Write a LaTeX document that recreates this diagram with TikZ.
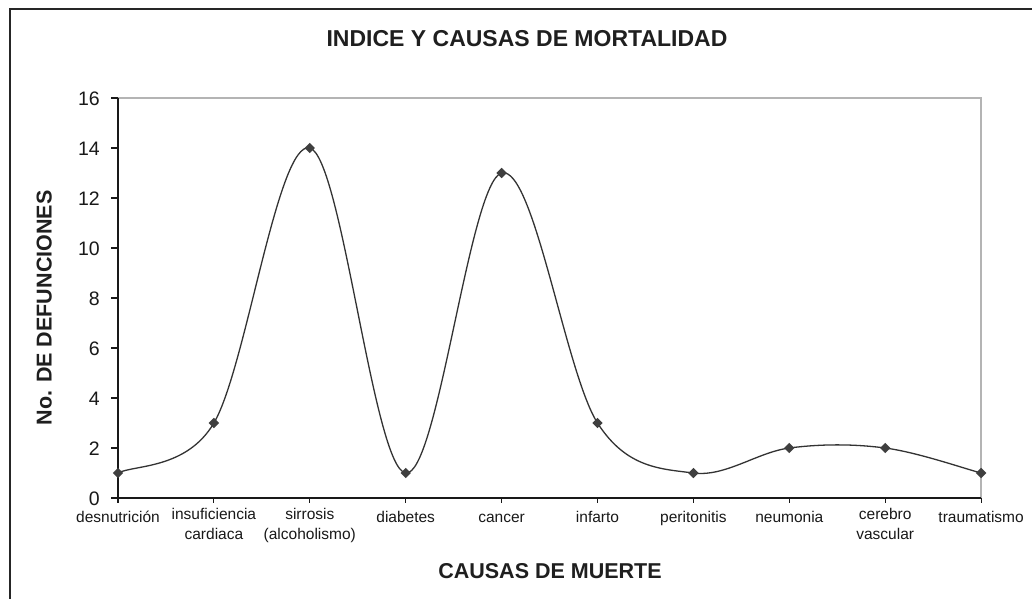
\documentclass[tikz,border=0pt]{standalone}
\usepackage{fontspec}
\setmainfont{Liberation Sans}
\usetikzlibrary{shapes.geometric}
\definecolor{curvecol}{HTML}{333333}
\definecolor{markcol}{HTML}{3F3F3F}
\definecolor{framegray}{HTML}{B4B4B4}
\tikzset{
  mk/.style={diamond,fill=markcol,draw=none,minimum width=10.5pt,minimum height=10.5pt,inner sep=0pt},
  ticklab/.style={anchor=base east,inner sep=0pt,font=\fontsize{19.5}{22}\selectfont,text=black!90},
  catlab/.style={anchor=north,inner sep=0pt,align=center,font=\fontsize{15.5}{20}\selectfont,text=black!90,execute at begin node=\strut},
  axtitle/.style={inner sep=0pt,font=\bfseries\fontsize{21.5}{24}\selectfont,text=black!88},
  axisline/.style={draw=black!90,line width=1.3pt},
  tickline/.style={draw=black!90,line width=1.1pt}
}
\begin{document}
\begin{tikzpicture}[x=1pt,y=-1pt]
\useasboundingbox (0,0) rectangle (1032,598);
\fill[white] (0,0) rectangle (1032,598);
% outer frame (only top and left visible)
\draw[line width=2pt,black!85] (10,600) -- (10,9) -- (1034,9);
% titles
\node[axtitle,anchor=base,font=\bfseries\fontsize{23}{25}\selectfont] (title) at (527,46.7) {INDICE Y CAUSAS DE MORTALIDAD};
\node[axtitle,anchor=base] (xtitle) at (550,578) {CAUSAS DE MUERTE};
\node[axtitle,anchor=base,rotate=90] (ytitle) at (51.7,308) {No. DE DEFUNCIONES};
\begin{scope}[shift={(118,498)},y=1pt]
  \coordinate (o) at (0,0);
  \coordinate (tl) at (0,400);
  \coordinate (tr) at (863.1,400);
  \coordinate (br) at (863.1,0);
  % plot frame
  \draw[framegray,line width=1.4pt] (tl) -- (tr) -- (br);
  % axes
  \draw[axisline] (tl) -- (o) -- (br);
  % y ticks and labels
  \foreach \v in {0,2,...,16}{
    \draw[tickline] (-7,\v*25) -- (0,\v*25);
    \node[ticklab] (yl\v) at (-18,\v*25-7) {\v};
  }
  % x ticks
  \foreach \i in {0,...,9}{
    \draw[tickline] (\i*95.9,0) -- (\i*95.9,-5);
  }
  % category labels (first-line baseline at y=-24; strut height 14)
  \node[catlab] (c0) at (0*95.9,-10) {desnutrición};
  \node[catlab] (c1) at (1*95.9,-10) {insuficiencia\\cardiaca};
  \node[catlab] (c2) at (2*95.9,-10) {sirrosis\\(alcoholismo)};
  \node[catlab] (c3) at (3*95.9,-10) {diabetes};
  \node[catlab] (c4) at (4*95.9,-10) {cancer};
  \node[catlab] (c5) at (5*95.9,-10) {infarto};
  \node[catlab] (c6) at (6*95.9,-10) {peritonitis};
  \node[catlab] (c7) at (7*95.9,-10) {neumonia};
  \node[catlab] (c8) at (8*95.9,-10) {cerebro\\vascular};
  \node[catlab] (c9) at (9*95.9,-10) {traumatismo};
  % data points
  \coordinate (p0) at (0,25);
  \coordinate (p1) at (95.9,75);
  \coordinate (p2) at (191.8,350);
  \coordinate (p3) at (287.7,25);
  \coordinate (p4) at (383.6,325);
  \coordinate (p5) at (479.5,75);
  \coordinate (p6) at (575.4,25);
  \coordinate (p7) at (671.3,50);
  \coordinate (p8) at (767.2,50);
  \coordinate (p9) at (863.1,25);
  % smoothed curve
  \draw[curvecol,line width=1.3pt,line join=round]
    (p0) .. controls (15.98,33.33) and (68.41,28.42) .. (p1)
         .. controls (127.87,129.17) and (159.83,358.33) .. (p2)
         .. controls (223.77,341.67) and (255.73,29.17) .. (p3)
         .. controls (319.67,20.83) and (351.63,316.67) .. (p4)
         .. controls (415.57,333.33) and (447.53,125) .. (p5)
         .. controls (508.64,29.42) and (543.43,29.17) .. (p6)
         .. controls (607.37,20.83) and (639.33,45.83) .. (p7)
         .. controls (703.27,54.17) and (735.23,54.17) .. (p8)
         .. controls (799.17,45.83) and (847.12,29.17) .. (p9);
  % markers
  \foreach \i in {0,...,9}{
    \node[mk] (m\i) at (p\i) {};
  }
\end{scope}
\end{tikzpicture}
\end{document}
